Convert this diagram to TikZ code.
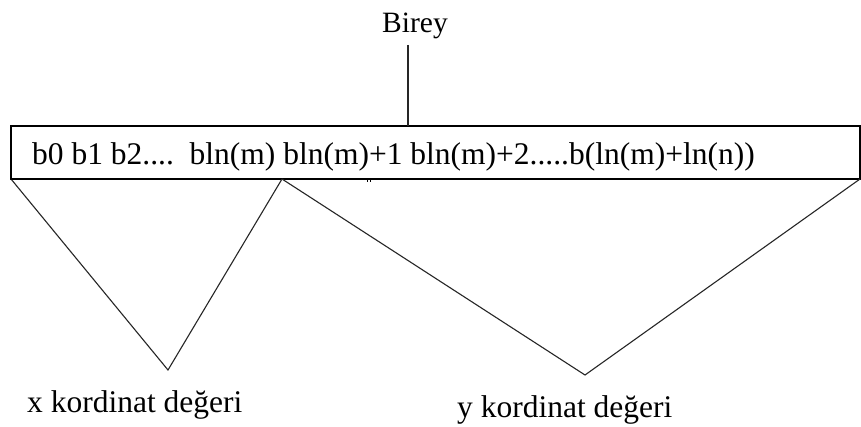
\documentclass[tikz,border=0pt]{standalone}
\usepackage{fontspec}
\setmainfont{Liberation Serif}
\begin{document}
\begin{tikzpicture}[x=1pt,y=1pt,
  lbl/.style={inner sep=0pt,font=\fontsize{31.5}{36}\selectfont},
  edge/.style={line width=1.1pt,black!85},
  boxline/.style={line width=1.3pt,black}]
\useasboundingbox (0,0) rectangle (861,426);
\fill[white] (0,0) rectangle (861,426);
% word box
\coordinate (bl) at (11,247);
\coordinate (tr) at (860,300);
\draw[boxline] (bl) rectangle (tr);
\node[lbl,anchor=base west] (bits) at (32,261) {b0 b1 b2....\ \ bln(m) bln(m)+1 bln(m)+2.....b(ln(m)+ln(n))};
% title
\node[lbl,anchor=base,font=\fontsize{29.5}{34}\selectfont] (birey) at (415,393) {Birey};
\coordinate (ltop) at (408,381);
\coordinate (lbot) at (408,300);
\draw[edge] (ltop) -- (lbot);
% split points
\coordinate (mid) at (282,247);
\coordinate (br) at (860,247);
\coordinate (vx) at (168,56);
\coordinate (vy) at (585,51);
\draw[edge] (bl) -- (vx) -- (mid);
\draw[edge] (mid) -- (vy) -- (br);
% small marks
\draw[line width=2.5pt] (11,247) -- (29,247);
\draw[line width=0.6pt] (367,244) -- (367,247) (370,244) -- (370,247);
% labels
\node[lbl,anchor=base west] (xl) at (27,14) {x kordinat değeri};
\node[lbl,anchor=base west] (yl) at (457,9) {y kordinat değeri};
\end{tikzpicture}
\end{document}
